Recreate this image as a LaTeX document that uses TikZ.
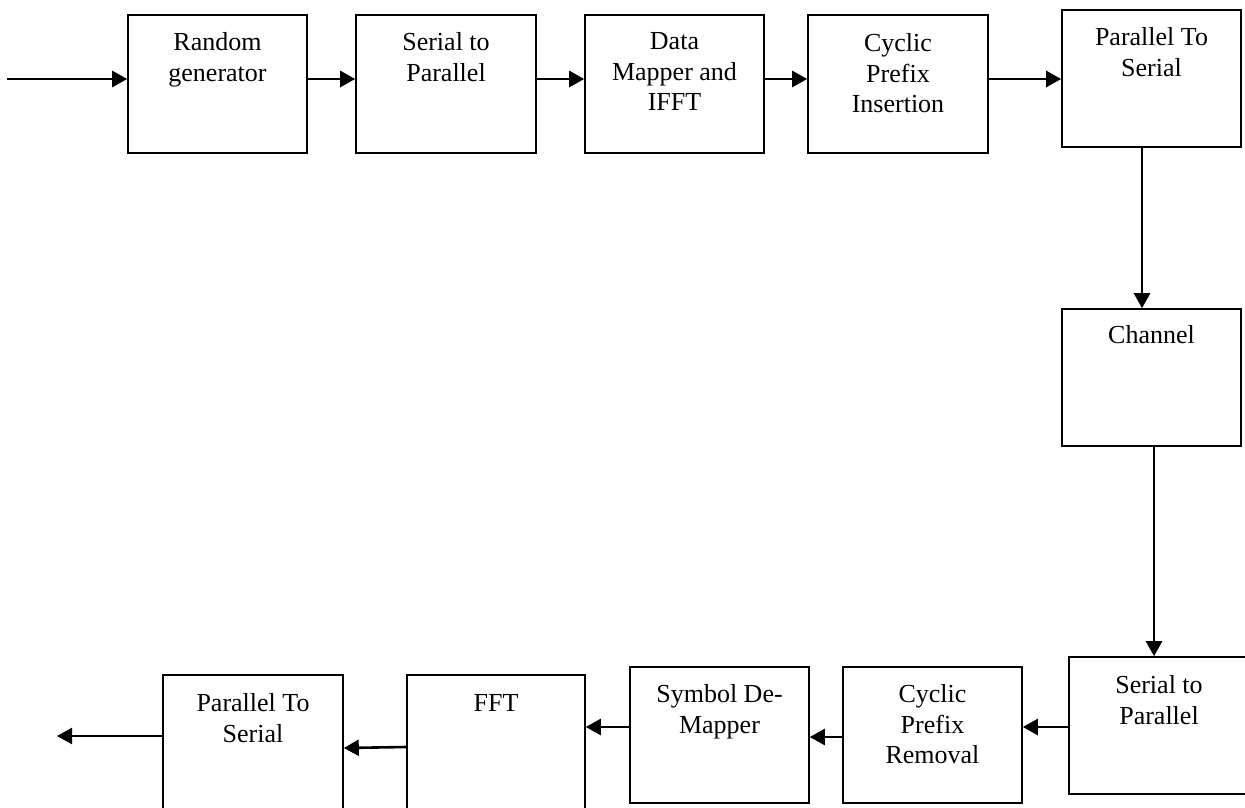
\documentclass[tikz,border=0pt]{standalone}
\usepackage{fontspec}
\setmainfont{Liberation Serif}
\usetikzlibrary{arrows.meta}
\begin{document}
\begin{tikzpicture}[x=0.5pt,y=-0.5pt,
  blk/.style={draw,line width=0.8pt,inner sep=0pt},
  lbl/.style={align=center,inner sep=0pt,anchor=north,font=\fontsize{13}{15.25}\selectfont},
  flow/.style={line width=1.3pt,-{Triangle[length=7.5pt,width=8pt]}}]
\useasboundingbox (0,0) rectangle (1245,807);
\clip (0,0) rectangle (1245,807);
% boxes
\node[blk,minimum width=89.5pt,minimum height=69pt] (a) at (217.5,84) {};
\node[blk,minimum width=90pt,minimum height=69pt] (b) at (446,84) {};
\node[blk,minimum width=89.5pt,minimum height=69pt] (c) at (674.5,84) {};
\node[blk,minimum width=90pt,minimum height=69pt] (d) at (898,84) {};
\node[blk,minimum width=89.5pt,minimum height=68.5pt] (e) at (1151.5,78.5) {};
\node[blk,minimum width=89.5pt,minimum height=68.5pt] (f) at (1151.5,377.5) {};
\node[blk,minimum width=90pt,minimum height=68.5pt] (g) at (1159,725.5) {};
\node[blk,minimum width=89.5pt,minimum height=68pt] (h) at (932.5,735) {};
\node[blk,minimum width=89.5pt,minimum height=68pt] (i) at (719.5,735) {};
\node[blk,minimum width=89pt,minimum height=80pt] (j) at (496,755) {};
\node[blk,minimum width=90pt,minimum height=80pt] (k) at (253,755) {};
% labels
\node[lbl] (ta) at (217.5,32.5) {Random\\generator};
\node[lbl] (tb) at (446,32.5) {Serial to\\Parallel};
\node[lbl] (tc) at (674.5,32.5) {Data\\Mapper and\\IFFT};
\node[lbl] (td) at (898,33.5) {Cyclic\\Prefix\\Insertion};
\node[lbl] (te) at (1151.5,27.5) {Parallel To\\Serial};
\node[lbl] (tf) at (1151.5,325.5) {Channel};
\node[lbl] (tg) at (1159,675.5) {Serial to\\Parallel};
\node[lbl] (th) at (932.5,684.5) {Cyclic\\Prefix\\Removal};
\node[lbl] (ti) at (719.5,684.5) {Symbol De-\\Mapper};
\node[lbl] (tj) at (496,694.5) {FFT};
\node[lbl] (tk) at (253,693.5) {Parallel To\\Serial};
% free ends
\coordinate (in) at (7,79);
\coordinate (out) at (57,736);
% connectors
\draw[flow] (in) -- (in -| a.west);
\draw[flow] (a.east |- 0,79) -- (b.west |- 0,79);
\draw[flow] (b.east |- 0,79) -- (c.west |- 0,79);
\draw[flow] (c.east |- 0,79) -- (d.west |- 0,79);
\draw[flow] (d.east |- 0,79) -- (e.west |- 0,79);
\draw[flow] (e.south -| 1142,0) -- (f.north -| 1142,0);
\draw[flow] (f.south -| 1154,0) -- (g.north -| 1154,0);
\draw[flow] (g.west |- 0,727) -- (h.east |- 0,727);
\draw[flow] (h.west |- 0,737) -- (i.east |- 0,737);
\draw[flow] (i.west |- 0,727) -- (j.east |- 0,727);
\draw[flow] (j.west |- 0,747) -- (k.east |- 0,748);
\draw[flow] (k.west |- 0,736) -- (out);
\end{tikzpicture}
\end{document}
